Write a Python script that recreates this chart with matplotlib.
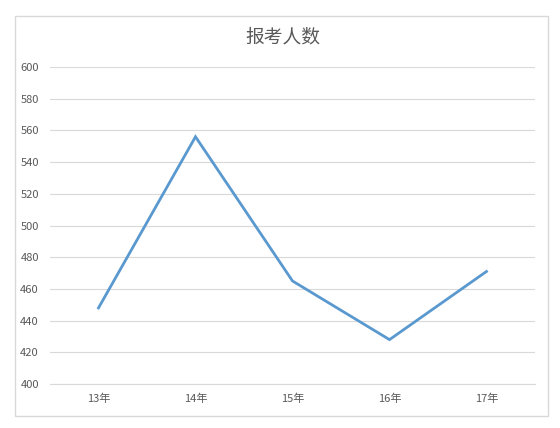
import matplotlib.pyplot as plt
from matplotlib.patches import Rectangle

plt.rcParams['font.family'] = ['Noto Sans CJK SC', 'DejaVu Sans']

years = ['13年', '14年', '15年', '16年', '17年']
applicants = [448, 556, 465, 428, 471]
y_ticks = [400, 420, 440, 460, 480, 500, 520, 540, 560, 580, 600]

fig = plt.figure(figsize=(5.6, 4.28), dpi=100)
fig.patches.append(Rectangle((15 / 560, 1 - 416 / 428), 533 / 560, 400 / 428,
                             transform=fig.transFigure, fill=False,
                             edgecolor='#d9d9d9', linewidth=1))

ax = fig.add_axes([50 / 560, 1 - 384 / 428, 485 / 560, 317 / 428])
x = range(len(years))
ax.plot(x, applicants, color='#5a99cf', linewidth=2.0, solid_joinstyle='miter')

ax.set_xlim(-0.5, len(years) - 0.5)
ax.set_ylim(400, 600)
ax.set_yticks(y_ticks)
ax.set_xticks(list(x))
ax.set_xticklabels(years)
ax.grid(axis='y', color='#d9d9d9', linewidth=0.8)
ax.set_axisbelow(True)
for side in ['top', 'right', 'left']:
    ax.spines[side].set_visible(False)
ax.spines['bottom'].set_color('#d9d9d9')
ax.tick_params(axis='both', length=0, labelsize=8, colors='#595959')
ax.tick_params(axis='y', pad=8)
ax.tick_params(axis='x', pad=7)

fig.text(283 / 560, 1 - 37 / 428, '报考人数', ha='center', va='center',
         fontsize=13.5, color='#595959')

fig.savefig('out.png', dpi=100)
